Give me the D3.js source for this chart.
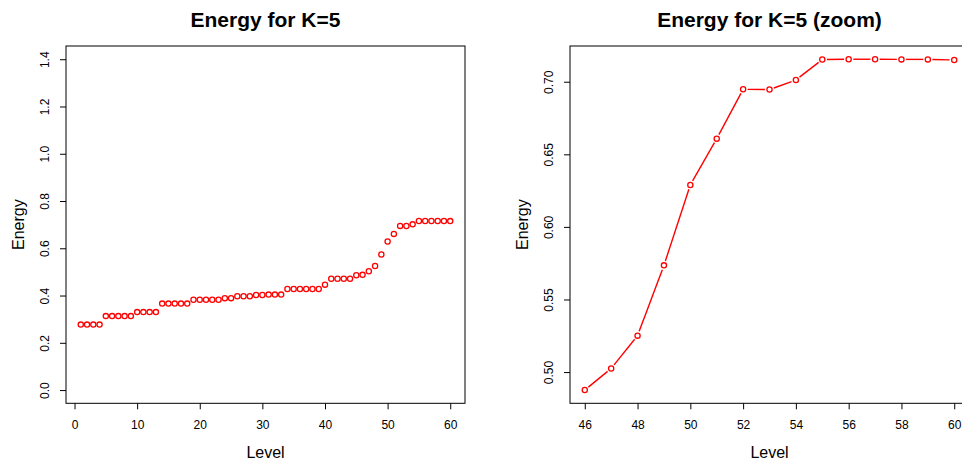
<!DOCTYPE html>
<html>
<head>
<meta charset="utf-8">
<script src="https://cdn.jsdelivr.net/npm/d3@7"></script>
<style>
  html, body { margin: 0; padding: 0; background: #fff; }
  svg { display: block; font-family: "Liberation Sans", Arial, Helvetica, sans-serif; }
</style>
</head>
<body>
<svg id="chart" width="962" height="463"></svg>
<script>
// ---- data ----
const levels = [1,2,3,4,5,6,7,8,9,10,11,12,13,14,15,16,17,18,19,20,
                21,22,23,24,25,26,27,28,29,30,31,32,33,34,35,36,37,38,39,40,
                41,42,43,44,45,46,47,48,49,50,51,52,53,54,55,56,57,58,59,60];
const energy = [0.277,0.277,0.277,0.277,
                0.313,0.313,0.313,0.313,0.313,
                0.330,0.330,0.330,0.330,
                0.366,0.366,0.366,0.366,0.366,
                0.382,0.382,0.382,0.382,0.382,
                0.389,0.389,
                0.397,0.397,0.397,
                0.402,0.402,
                0.404,0.404,0.404,
                0.428,0.428,0.428,0.428,0.428,0.428,
                0.446,
                0.471,0.471,0.471,0.471,
                0.486,
                0.4876,0.5025,0.5251,0.5735,0.6289,0.6608,0.6948,0.6946,0.7012,
                0.7153,0.7155,0.7155,0.7154,0.7154,0.7150];
const zoomFrom = 46;
const leftXTicks = [0,10,20,30,40,50,60];
const leftYTicks = [0.0,0.2,0.4,0.6,0.8,1.0,1.2,1.4];
const leftYLabels = ["0.0","0.2","0.4","0.6","0.8","1.0","1.2","1.4"];
const rightXTicks = [46,48,50,52,54,56,58,60];
const rightYTicks = [0.50,0.55,0.60,0.65,0.70];
const rightYLabels = ["0.50","0.55","0.60","0.65","0.70"];
const titles = ["Energy for K=5", "Energy for K=5 (zoom)"];
const xTitle = "Level";
const yTitle = "Energy";

// ---- helpers ----
const svg = d3.select("#chart");
const RED = "#ff0000";
const boxTop = 46, boxBottom = 403.3;

function extend(lo, hi) { const d = (hi - lo) * 0.04; return [lo - d, hi + d]; }

function panel(opts) {
  const { left, right, xs, ys, xTicks, yTicks, yLabels, title, pts, lines } = opts;
  const g = svg.append("g");
  // box
  g.append("rect").attr("x", left).attr("y", boxTop)
    .attr("width", right - left).attr("height", boxBottom - boxTop)
    .attr("fill", "none").attr("stroke", "#000").attr("stroke-width", 1);

  // x axis
  const xa = g.append("g").attr("transform", `translate(0,${boxBottom})`)
    .call(d3.axisBottom(xs).tickValues(xTicks).tickSizeOuter(0).tickSize(6).tickFormat(d3.format("d")));
  xa.select(".domain").remove();
  xa.selectAll(".tick line").attr("stroke", "#000");
  xa.selectAll(".tick text").attr("y", 26).attr("dy", 0)
    .attr("font-size", 12).attr("fill", "#000")
    .attr("font-family", "Liberation Sans, Arial, sans-serif");

  // y axis
  const ya = g.append("g").attr("transform", `translate(${left},0)`)
    .call(d3.axisLeft(ys).tickValues(yTicks).tickSizeOuter(0).tickSize(6)
      .tickFormat((d, i) => yLabels[i]));
  ya.select(".domain").remove();
  ya.selectAll(".tick line").attr("stroke", "#000");
  ya.selectAll(".tick text").attr("x", 0).attr("dy", 0)
    .attr("text-anchor", "middle")
    .attr("transform", "translate(-17.5,0) rotate(-90)")
    .attr("font-size", 12).attr("fill", "#000")
    .attr("font-family", "Liberation Sans, Arial, sans-serif");

  // titles
  g.append("text").attr("x", (left + right) / 2).attr("y", 26.5)
    .attr("text-anchor", "middle").attr("font-weight", "bold").attr("font-size", 21)
    .text(title);
  g.append("text").attr("x", (left + right) / 2).attr("y", 457.5)
    .attr("text-anchor", "middle").attr("font-size", 16).text(xTitle);
  g.append("text")
    .attr("transform", `translate(${left - 42},${(boxTop + boxBottom) / 2}) rotate(-90)`)
    .attr("text-anchor", "middle").attr("font-size", 16).text(yTitle);

  // lines with gaps (R type = "b")
  if (lines) {
    const gap = 4.6;
    for (let i = 0; i < pts.length - 1; i++) {
      const x1 = xs(pts[i][0]), y1 = ys(pts[i][1]);
      const x2 = xs(pts[i + 1][0]), y2 = ys(pts[i + 1][1]);
      const len = Math.hypot(x2 - x1, y2 - y1);
      if (len <= 2 * gap) continue;
      const ux = (x2 - x1) / len, uy = (y2 - y1) / len;
      g.append("line")
        .attr("x1", x1 + ux * gap).attr("y1", y1 + uy * gap)
        .attr("x2", x2 - ux * gap).attr("y2", y2 - uy * gap)
        .attr("stroke", RED).attr("stroke-width", 1.4);
    }
  }
  // points
  g.selectAll("circle.p").data(pts).enter().append("circle")
    .attr("cx", d => xs(d[0])).attr("cy", d => ys(d[1]))
    .attr("r", 2.6).attr("fill", "none").attr("stroke", RED).attr("stroke-width", 1.3);
}

// left panel
const allPts = levels.map((l, i) => [l, energy[i]]);
const xL = d3.scaleLinear().domain(extend(d3.min(levels), d3.max(levels))).range([66, 465]);
const yL = d3.scaleLinear().domain(extend(0, 1.4)).range([boxBottom, boxTop]);
panel({ left: 66, right: 465, xs: xL, ys: yL, xTicks: leftXTicks, yTicks: leftYTicks,
        yLabels: leftYLabels, title: titles[0], pts: allPts, lines: false });

// right panel (zoom)
const zoomPts = allPts.filter(d => d[0] >= zoomFrom);
const xR = d3.scaleLinear().domain(extend(zoomFrom, d3.max(levels))).range([570, 969]);
const eR = d3.extent(zoomPts, d => d[1]);
const yR = d3.scaleLinear().domain(extend(eR[0], eR[1])).range([boxBottom, boxTop]);
panel({ left: 570, right: 969, xs: xR, ys: yR, xTicks: rightXTicks, yTicks: rightYTicks,
        yLabels: rightYLabels, title: titles[1], pts: zoomPts, lines: true });
</script>
</body>
</html>
